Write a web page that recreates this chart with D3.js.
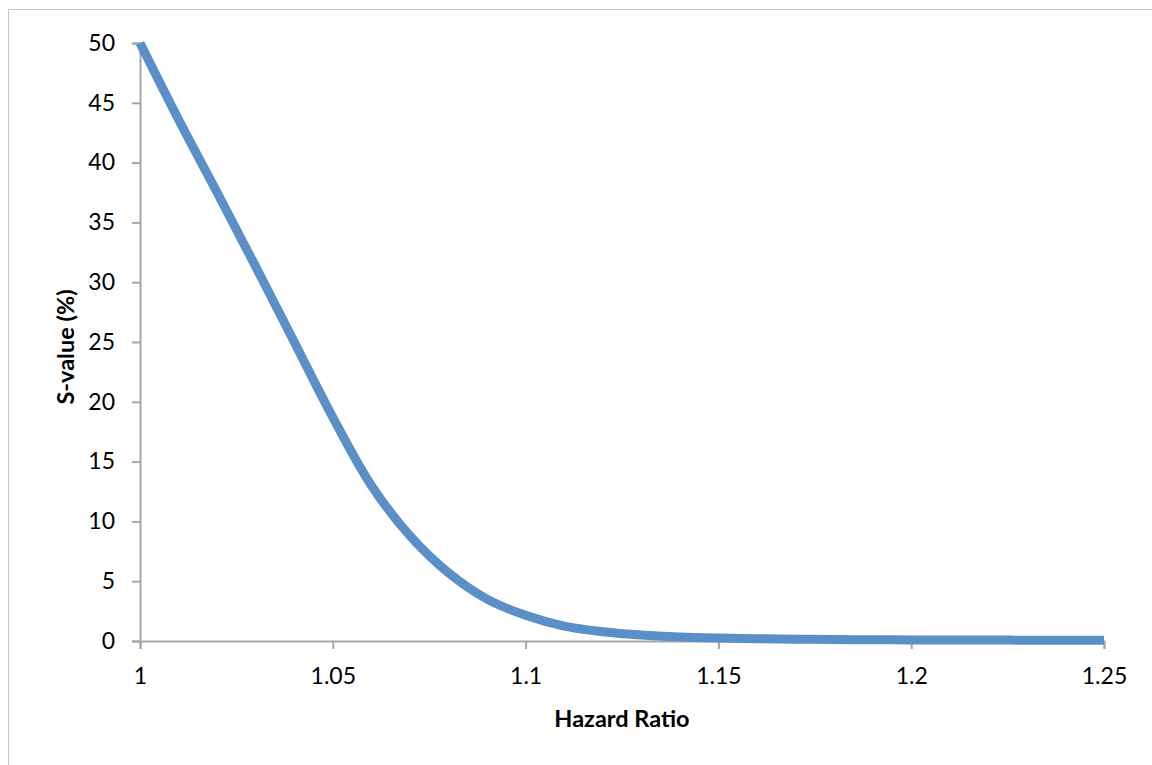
<!DOCTYPE html>
<html>
<head>
<meta charset="utf-8">
<script src="https://cdn.jsdelivr.net/npm/d3@7"></script>
<style>
  html, body { margin: 0; padding: 0; background: #fff; }
  svg { display: block; }
  text { font-family: Lato, "Open Sans", sans-serif; fill: #000; }
</style>
</head>
<body>
<svg id="chart" width="1152" height="765"></svg>
<script>
const hazardRatio = [1.00,1.01,1.02,1.03,1.04,1.05,1.06,1.07,1.08,1.09,1.10,1.11,1.12,1.13,1.14,1.15,1.16,1.17,1.18,1.19,1.20,1.21,1.22,1.23,1.24,1.25];
const sValue = [50,43.6,37.5,31.3,25.0,18.7,13.0,8.8,5.7,3.5,2.15,1.25,0.78,0.5,0.34,0.25,0.19,0.15,0.12,0.10,0.09,0.08,0.08,0.07,0.07,0.07];
const xTicks = [1,1.05,1.1,1.15,1.2,1.25];
const yTicks = [0,5,10,15,20,25,30,35,40,45,50];
const xTitle = "Hazard Ratio";
const yTitle = "S-value (%)";

const svg = d3.select("#chart");

// outer chart border (only top/left visible)
svg.append("rect")
  .attr("x", 8.5).attr("y", 9.5)
  .attr("width", 1400).attr("height", 1000)
  .attr("fill", "none").attr("stroke", "#c6c6c6").attr("stroke-width", 1);

const x = d3.scaleLinear().domain([1, 1.25]).range([140, 1104]);
const y = d3.scaleLinear().domain([0, 50]).range([641, 43]);

const axisColor = "#a6a6a6";

const yAxis = svg.append("g")
  .attr("transform", "translate(140,0)")
  .call(d3.axisLeft(y).tickValues(yTicks).tickFormat(d3.format("d")).tickSize(8).tickPadding(17));
const xAxis = svg.append("g")
  .attr("transform", "translate(0,641)")
  .call(d3.axisBottom(x).tickValues(xTicks).tickFormat(d => String(d)).tickSize(8).tickPadding(19));

[xAxis, yAxis].forEach(g => {
  g.select(".domain").attr("stroke", axisColor).attr("stroke-width", 2);
  g.selectAll(".tick line").attr("stroke", axisColor).attr("stroke-width", 2);
  g.selectAll(".tick text").attr("font-size", 23).attr("font-family", "Lato, sans-serif").attr("fill", "#000");
});

// line
const line = d3.line()
  .x((d, i) => x(hazardRatio[i]))
  .y(d => y(d))
  .curve(d3.curveCatmullRom.alpha(0.5));

svg.append("path")
  .datum(sValue)
  .attr("d", line)
  .attr("fill", "none")
  .attr("stroke", "#5b8fc7")
  .attr("stroke-width", 9)
  .attr("stroke-linecap", "butt")
  .attr("stroke-linejoin", "round");

// axis titles
svg.append("text")
  .attr("x", 622).attr("y", 727)
  .attr("text-anchor", "middle")
  .attr("font-size", 23.5).attr("font-weight", "bold")
  .text(xTitle);

svg.append("text")
  .attr("transform", "translate(74,347) rotate(-90)")
  .attr("text-anchor", "middle")
  .attr("font-size", 23.5).attr("font-weight", "bold")
  .text(yTitle);
</script>
</body>
</html>
